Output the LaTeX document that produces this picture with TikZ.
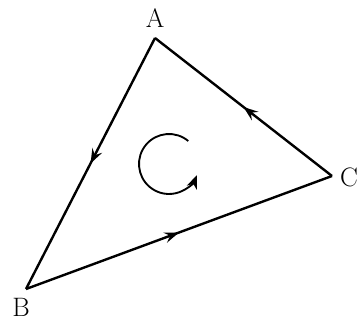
\documentclass[tikz,border=0pt]{standalone}
\usetikzlibrary{arrows.meta,decorations.markings}
\begin{document}
\begin{tikzpicture}[x=0.75pt,y=-0.75pt,
  edge/.style={line width=1.8pt,line join=miter,
    postaction={decorate},
    decoration={markings,mark=at position 0.5 with {\arrow{Stealth[length=11pt,width=8pt,inset=4pt]}}}},
  lbl/.style={font=\fontsize{20}{22}\selectfont,inner sep=0pt}]
\useasboundingbox (0,0) rectangle (357,325);
\coordinate (A) at (155,38);
\coordinate (B) at (26,289);
\coordinate (C) at (332,176);
\node[lbl] (la) at (155,18) {A};
\node[lbl] (lb) at (21,307) {B};
\node[lbl] (lc) at (349,177) {C};
\draw[edge] (A) -- (B);
\draw[edge] (B) -- (C);
\draw[edge] (C) -- (A);
\coordinate (O) at (169,164);
\draw[line width=1.4pt,-{Stealth[length=10pt,width=8pt,inset=3pt]}] ([shift={(-50:30)}]O) arc[start angle=-50,end angle=-338,radius=30];
\end{tikzpicture}
\end{document}
